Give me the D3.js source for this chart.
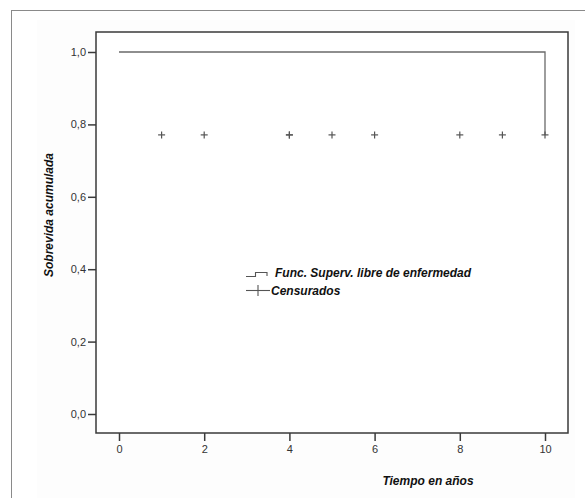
<!DOCTYPE html>
<html lang="es">
<head>
<meta charset="UTF-8">
<title>Sobrevida acumulada</title>
<script src="https://d3js.org/d3.v7.min.js"></script>
<style>
  body { margin: 0; background: #ffffff; }
  text { font-family: "Liberation Sans", Arial, sans-serif; }
</style>
</head>
<body>
<div id="chart"></div>
<script>
// survival step function (time in years, cumulative survival)
var survTimes = [0, 10];
var survValues = [1.0, 0.771];
// censored observations
var censorTimes = [1, 2, 4, 4, 5, 6, 8, 9, 10];
var censorValue = 0.771;
// axis ticks
var xTicks = [0, 2, 4, 6, 8, 10];
var yTicks = [0, 0.2, 0.4, 0.6, 0.8, 1.0];
var legendLabels = ["Func. Superv. libre de enfermedad", "Censurados"];

var W = 585, H = 498;
var svg = d3.select("#chart").append("svg")
    .attr("width", W).attr("height", H);

// outer frame
svg.append("rect")
  .attr("x", 11.5).attr("y", 10.5)
  .attr("width", 700).attr("height", 700)
  .attr("fill", "none").attr("stroke", "#8a8a8a").attr("stroke-width", 1);
svg.append("rect")
  .attr("x", 37).attr("y", 20).attr("width", 538).attr("height", 600)
  .attr("fill", "#fdfdfd");

var plot = {left: 96, top: 32, right: 568, bottom: 433};

var x = d3.scaleLinear().domain([0, 10]).range([119, 545]);
var y = d3.scaleLinear().domain([0, 1]).range([414, 52]);

var loc = d3.formatLocale({decimal: ",", thousands: ".", grouping: [3], currency: ["", ""]});
var fmt = loc.format(".1f");

// plot frame
svg.append("rect")
  .attr("x", plot.left).attr("y", plot.top)
  .attr("width", plot.right - plot.left).attr("height", plot.bottom - plot.top)
  .attr("fill", "#ffffff").attr("stroke", "#3a3a3a").attr("stroke-width", 1.5);

// y axis
var yAxis = svg.append("g")
  .attr("transform", "translate(" + plot.left + ",0)")
  .call(d3.axisLeft(y).tickValues(yTicks).tickFormat(fmt).tickSize(8).tickPadding(2));
yAxis.select(".domain").remove();
yAxis.selectAll("line").attr("stroke", "#3a3a3a").attr("stroke-width", 1.5);
yAxis.selectAll("text").attr("fill", "#333").style("font-size", "11px");

// x axis
var xAxis = svg.append("g")
  .attr("transform", "translate(0," + plot.bottom + ")")
  .call(d3.axisBottom(x).tickValues(xTicks).tickFormat(d3.format("d")).tickSize(8).tickPadding(4));
xAxis.select(".domain").remove();
xAxis.selectAll("line").attr("stroke", "#3a3a3a").attr("stroke-width", 1.5);
xAxis.selectAll("text").attr("fill", "#333").style("font-size", "11px");

// axis titles
svg.append("text")
  .attr("x", 428).attr("y", 485)
  .attr("text-anchor", "middle")
  .style("font-size", "12px").style("font-weight", "bold").style("font-style", "italic")
  .attr("fill", "#111")
  .text("Tiempo en años");
svg.append("text")
  .attr("transform", "translate(53,215) rotate(-90)")
  .attr("text-anchor", "middle")
  .style("font-size", "12px").style("font-weight", "bold").style("font-style", "italic")
  .attr("fill", "#111")
  .text("Sobrevida acumulada");

// survival curve (step after)
var pts = survTimes.map(function(t, i) { return {t: t, s: survValues[i]}; });
svg.append("path")
  .datum(pts)
  .attr("fill", "none")
  .attr("stroke", "#6a6a6a")
  .attr("stroke-width", 1.3)
  .attr("d", d3.line().curve(d3.curveStepAfter)
    .x(function(d) { return x(d.t); })
    .y(function(d) { return y(d.s); }));

// censored marks
var cs = 3.5;
var marks = svg.append("g").selectAll("g")
  .data(censorTimes).enter().append("g")
  .attr("transform", function(d) { return "translate(" + x(d) + "," + y(censorValue) + ")"; });
marks.append("line").attr("x1", -cs).attr("x2", cs).attr("y1", 0).attr("y2", 0)
  .attr("stroke", "#555").attr("stroke-width", 1.2);
marks.append("line").attr("x1", 0).attr("x2", 0).attr("y1", -cs).attr("y2", cs)
  .attr("stroke", "#555").attr("stroke-width", 1.2);

// legend
var lg = svg.append("g");
lg.append("path")
  .attr("d", "M246,276.5 L255.5,276.5 L255.5,272.5 L267,272.5 L267,276")
  .attr("fill", "none").attr("stroke", "#555").attr("stroke-width", 1.1);
lg.append("line").attr("x1", 246).attr("x2", 270).attr("y1", 290.5).attr("y2", 290.5)
  .attr("stroke", "#555").attr("stroke-width", 1.1);
lg.append("line").attr("x1", 258).attr("x2", 258).attr("y1", 285).attr("y2", 296)
  .attr("stroke", "#555").attr("stroke-width", 1.1);
lg.selectAll("text").data(legendLabels).enter().append("text")
  .attr("x", function(d, i) { return i === 0 ? 275 : 271; })
  .attr("y", function(d, i) { return 277 + i * 18; })
  .style("font-size", "12px").style("font-weight", "bold").style("font-style", "italic")
  .attr("fill", "#111")
  .text(function(d) { return d; });
</script>
</body>
</html>
